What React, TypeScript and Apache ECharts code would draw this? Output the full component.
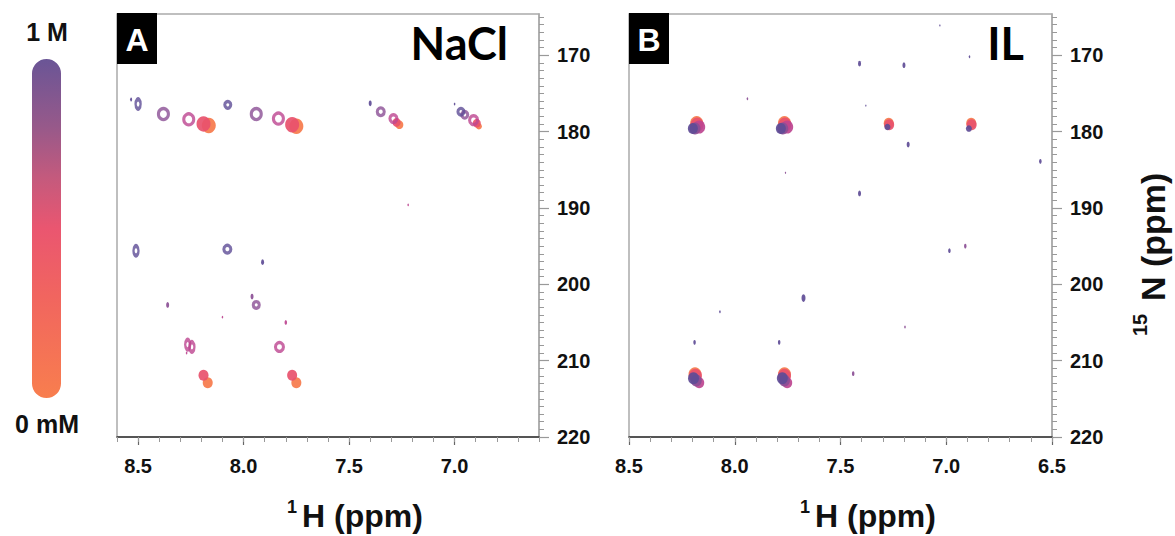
import React, { useEffect, useRef } from "react";
import * as echarts from "echarts";

// ---- data ----
const concentrationLabels = ["1 M", "0 mM"];
const levelColors = ["#5e4c96", "#8b4f95", "#bd4590", "#e8516c", "#f67a4b"];

// [1H ppm, 15N ppm, concentration level (0 = 1 M ... 4 = 0 mM), peak width]
const naclPeaksTop = [
  [8.533, 175.8, 0, 2], [8.5, 176.4, 0, 5], [8.38, 177.7, 1, 10], [8.26, 178.4, 2, 10],
  [8.19, 179.0, 3, 14], [8.165, 179.2, 4, 14],
  [8.075, 176.5, 0, 6], [7.94, 177.7, 1, 10], [7.835, 178.3, 2, 10], [7.77, 179.1, 3, 14], [7.75, 179.3, 4, 14],
  [7.4, 176.3, 0, 3], [7.35, 177.4, 1, 7], [7.29, 178.3, 2, 7], [7.275, 178.8, 3, 8], [7.262, 179.1, 4, 8],
  [7.0, 176.4, 0, 1.5], [6.97, 177.4, 0, 6], [6.952, 177.8, 1, 6], [6.91, 178.5, 2, 8], [6.895, 178.9, 3, 8], [6.885, 179.3, 4, 6],
];
const naclPeaksBottom = [
  [7.22, 189.6, 2, 1.5], [8.51, 195.6, 0, 5], [8.077, 195.4, 0, 7], [7.91, 197.1, 0, 3],
  [8.36, 202.7, 1, 3], [7.96, 201.6, 1, 3], [7.94, 202.7, 1, 6], [8.1, 204.3, 2, 1.5], [7.8, 205.0, 2, 2.5],
  [8.265, 207.9, 2, 5], [8.245, 208.2, 2, 5], [8.27, 209.0, 2, 1.5], [7.83, 208.2, 2, 8],
  [8.19, 211.9, 3, 10], [8.17, 212.9, 4, 10], [7.77, 211.9, 3, 10], [7.75, 212.9, 4, 10],
];
const ilPeaksClusters = [
  [8.18, 178.9, 4, 13], [8.178, 179.1, 3, 13], [8.168, 179.4, 2, 12], [8.188, 179.6, 1, 11], [8.198, 179.6, 0, 10],
  [7.765, 178.9, 4, 13], [7.763, 179.1, 3, 13], [7.752, 179.4, 2, 12], [7.773, 179.6, 1, 11], [7.782, 179.6, 0, 10],
  [7.272, 178.9, 4, 10], [7.27, 179.1, 3, 10], [7.278, 179.4, 0, 6],
  [6.882, 178.9, 4, 10], [6.88, 179.1, 3, 10], [6.893, 179.6, 0, 6],
  [8.188, 211.8, 4, 13], [8.186, 212.0, 3, 13], [8.195, 212.3, 0, 11], [8.182, 212.6, 1, 11], [8.168, 212.9, 2, 10],
  [7.765, 211.8, 4, 13], [7.765, 212.0, 3, 13], [7.775, 212.3, 0, 11], [7.765, 212.6, 1, 11], [7.752, 212.9, 2, 10],
];
const ilPeaksWeak = [
  [7.41, 171.1, 0, 3], [7.2, 171.3, 0, 3], [7.18, 181.7, 0, 3], [6.555, 183.9, 0, 2.5], [7.41, 188.1, 0, 3],
  [6.985, 195.6, 0, 2.5], [6.91, 195.0, 1, 2.5], [7.675, 201.8, 0, 4], [8.19, 207.6, 0, 2.5], [7.79, 207.6, 0, 2.5],
  [7.44, 211.7, 1, 2.5], [6.89, 170.2, 0, 1.5], [7.03, 166.1, 0, 1.2], [7.94, 175.7, 1, 1.5], [7.38, 176.6, 0, 1.2],
  [7.76, 185.4, 1, 1.2], [8.07, 203.6, 0, 1.5], [7.195, 205.6, 1, 1.5],
];

const xMajorTicks = [6.5, 7.0, 7.5, 8.0, 8.5];
const xMinorTicks = [6.5, 6.6, 6.7, 6.8, 6.9, 7.0, 7.1, 7.2, 7.3, 7.4, 7.5, 7.6, 7.7, 7.8, 7.9, 8.0, 8.1, 8.2, 8.3, 8.4, 8.5, 8.6];
const yMajorTicks = [170, 180, 190, 200, 210, 220];
const yMinorTicks = Array.from({ length: 56 }, (_, i) => 165 + i);

const panelTitles = ["NaCl", "IL"];
const panelLetters = ["A", "B"];
const xRangeA = [6.6, 8.6];
const xRangeB = [6.5, 8.5];
const yRange = [164.6, 220];

const FONT = "'Liberation Sans', Arial, sans-serif";

function sizeOf(w: number) {
  return w < 6 ? [w, w * 1.9] : [w, w * 1.1];
}

function buildSeries(peaks: number[][], gridIdx: number, ringLevels: number[]) {
  const out: any[] = [];
  for (let lv = 4; lv >= 0; lv--) {
    const c = levelColors[lv];
    const data = peaks
      .filter((p) => p[2] === lv)
      .map((p) => {
        const ring = ringLevels.includes(lv) && p[3] >= 5;
        return {
          value: [p[0], p[1], p[2], p[3]],
          itemStyle: ring
            ? { color: "rgba(255,255,255,0)", borderColor: c, borderWidth: 3.2 }
            : { color: c, opacity: 0.92 },
        };
      });
    out.push({
      type: "scatter",
      xAxisIndex: gridIdx * 2,
      yAxisIndex: gridIdx * 2,
      symbol: "circle",
      symbolSize: (v: number[]) => sizeOf(v[3]),
      data,
      silent: true,
    });
  }
  return out;
}

function axesFor(gridIdx: number, xr: number[]) {
  const xMajor = xMajorTicks.filter((t) => t >= xr[0] - 1e-6 && t <= xr[1] + 1e-6);
  const xMinor = xMinorTicks.filter((t) => t >= xr[0] - 1e-6 && t <= xr[1] + 1e-6);
  const xa = [
    {
      type: "value", gridIndex: gridIdx, min: xr[0], max: xr[1], inverse: true, position: "bottom",
      axisLine: { onZero: false, lineStyle: { color: "#333", width: 1.5 } },
      axisTick: { show: true, length: 8, customValues: xMajor, lineStyle: { color: "#666", width: 1.2 } },
      axisLabel: {
        customValues: xMajor, margin: 19, formatter: (v: number) => v.toFixed(1),
        fontFamily: FONT, fontWeight: "bold", fontSize: 20, color: "#111",
      },
      splitLine: { show: false },
    },
    {
      type: "value", gridIndex: gridIdx, min: xr[0], max: xr[1], inverse: true, position: "bottom",
      axisLine: { show: false, onZero: false },
      axisTick: { show: true, length: 5, customValues: xMinor, lineStyle: { color: "#999", width: 1 } },
      axisLabel: { show: false },
      splitLine: { show: false },
    },
  ];
  const ya = [
    {
      type: "value", gridIndex: gridIdx, min: yRange[0], max: yRange[1], inverse: true, position: "right",
      axisLine: { onZero: false, lineStyle: { color: "#aaa", width: 1.5 } },
      axisTick: { show: true, length: 10, customValues: yMajorTicks, lineStyle: { color: "#999", width: 1.2 } },
      axisLabel: {
        customValues: yMajorTicks, margin: 18,
        fontFamily: FONT, fontWeight: "bold", fontSize: 20, color: "#111",
      },
      splitLine: { show: false },
    },
    {
      type: "value", gridIndex: gridIdx, min: yRange[0], max: yRange[1], inverse: true, position: "right",
      axisLine: { show: false, onZero: false },
      axisTick: { show: true, length: 5, customValues: yMinorTicks, lineStyle: { color: "#999", width: 1 } },
      axisLabel: { show: false },
      splitLine: { show: false },
    },
  ];
  return { xa, ya };
}

function txt(x: number, y: number, text: string, fontSize: number, extra: any = {}, rotation = 0) {
  return {
    type: "text", x, y, z: 10, rotation,
    style: {
      text, fontFamily: FONT, fontWeight: "bold", fontSize, fill: "#111",
      align: "left", verticalAlign: "middle", ...extra,
    },
  };
}

export default function App() {
  const ref = useRef<HTMLDivElement>(null);
  useEffect(() => {
    if (!ref.current) return;
    const chart = echarts.init(ref.current, null, { renderer: "svg" });
    const a = axesFor(0, xRangeA);
    const b = axesFor(1, xRangeB);
    const option: any = {
      animation: false,
      backgroundColor: "#fff",
      grid: [
        { left: 117, top: 14, width: 422, height: 423, show: true, borderColor: "#aaa", borderWidth: 1.5, backgroundColor: "#fff" },
        { left: 629, top: 14, width: 423, height: 423, show: true, borderColor: "#aaa", borderWidth: 1.5, backgroundColor: "#fff" },
      ],
      xAxis: [...a.xa, ...b.xa],
      yAxis: [...a.ya, ...b.ya],
      series: [
        ...buildSeries([...naclPeaksTop, ...naclPeaksBottom], 0, [0, 1, 2]),
        ...buildSeries([...ilPeaksClusters, ...ilPeaksWeak], 1, []),
      ],
      graphic: [
        {
          type: "rect", left: 32, top: 59, z: 10,
          shape: { width: 29, height: 339, r: 14.5 },
          style: {
            fill: new echarts.graphic.LinearGradient(0, 0, 0, 1, [
              { offset: 0, color: "#6a5596" },
              { offset: 0.2, color: "#97598a" },
              { offset: 0.35, color: "#c45a7d" },
              { offset: 0.5, color: "#ea5670" },
              { offset: 0.7, color: "#f1655f" },
              { offset: 1, color: "#f87e4e" },
            ]),
          },
        },
        txt(47, 32, concentrationLabels[0], 25, { align: "center" }),
        txt(47, 424, concentrationLabels[1], 25, { align: "center" }),
        { type: "rect", x: 117, y: 13, z: 10, shape: { width: 40, height: 51 }, style: { fill: "#000" } },
        { type: "rect", x: 629, y: 13, z: 10, shape: { width: 40, height: 51 }, style: { fill: "#000" } },
        { ...txt(137, 40, panelLetters[0], 32, { align: "center", fill: "#fff" }), z: 11 },
        { ...txt(649, 40, panelLetters[1], 32, { align: "center", fill: "#fff" }), z: 11 },
        txt(508, 43, panelTitles[0], 45, { align: "right", fill: "#000", fontFamily: "Lato, 'Open Sans', sans-serif" }),
        txt(1024, 43, panelTitles[1], 45, { align: "right", fill: "#000", fontFamily: "Lato, 'Open Sans', sans-serif" }),
        // x titles: superscript + main
        txt(287, 507, "1", 18),
        txt(302, 516, "H (ppm)", 32),
        txt(800, 507, "1", 18),
        txt(815, 516, "H (ppm)", 32),
        // y title (rotated)
        txt(1153, 301, "N (ppm)", 34, {}, Math.PI / 2),
        txt(1140, 336, "15", 20, {}, Math.PI / 2),
      ],
    };
    chart.setOption(option);
    return () => chart.dispose();
  }, []);
  return (
    <div
      ref={ref}
      style={{ position: "fixed", left: 0, top: 0, width: 1175, height: 536, background: "#fff" }}
    />
  );
}
